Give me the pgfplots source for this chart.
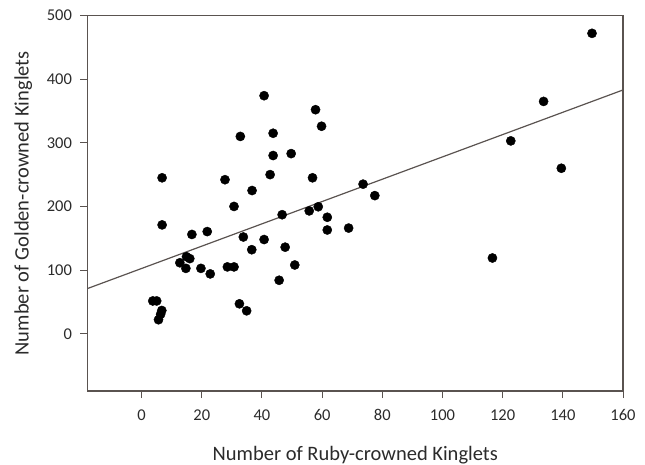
\documentclass[border=0pt]{standalone}
\usepackage{fontspec}
\setmainfont{Carlito}
\usepackage{pgfplots}
\pgfplotsset{compat=1.18}
\definecolor{axc}{HTML}{5A5350}
\definecolor{txt}{HTML}{2B2B2B}
\begin{document}
\begin{tikzpicture}
\begin{axis}[
 scale only axis, width=535.5pt, height=375.5pt,
 xmin=-18, xmax=160, ymin=-90, ymax=500,
 xtick={0,20,...,160}, ytick={0,100,...,500},
 tick align=outside, major tick length=7pt,
 xtick pos=bottom, ytick pos=left,
 axis line style={axc, line width=1.4pt},
 tick style={axc, line width=1pt},
 tick label style={font=\fontsize{16.5}{20}\selectfont, text=txt},
 xticklabel style={yshift=-8pt},
 yticklabel style={xshift=-5pt},
 /pgf/number format/assume math mode=true,
 xlabel={Number of Ruby-crowned Kinglets},
 ylabel={Number of Golden-crowned Kinglets},
 label style={font=\fontsize{20.5}{24}\selectfont, text=txt},
 xlabel style={at={(axis description cs:0.5,-0.1838)}, anchor=base},
 ylabel style={at={(axis description cs:-0.12,0.5)}, anchor=center},
 clip=false,
]
\addplot[no marks, color=axc, line width=1.2pt] coordinates {(-18,71) (160,383)};
\addplot[only marks, mark=*, mark size=4.6pt, black] coordinates {
(40.7,374) (57.8,352) (59.8,326) (32.8,310) (43.7,315) (43.7,280) (49.7,283)
(6.8,245) (27.7,242) (42.7,250) (56.8,245) (36.7,225) (73.6,235) (77.5,217)
(30.7,200) (6.8,171) (16.7,156) (21.8,160.5) (33.8,152) (40.7,148) (36.6,132)
(46.7,187) (55.7,193) (58.7,199.5) (61.7,183) (61.7,163) (68.8,166) (47.7,136)
(50.9,108) (45.7,84) (12.7,111.5) (14.9,121) (16.0,118) (14.7,102.7) (19.7,102.7)
(22.8,94) (28.5,105) (30.7,105) (3.7,51.5) (5.0,51.5) (6.7,36.5) (6.3,30.5)
(5.6,22) (32.5,47) (34.9,36) (149.7,472) (133.6,365) (122.7,303) (139.5,260)
(116.6,119)
};
\end{axis}
\pgfresetboundingbox
\path[use as bounding box] (-87.5pt,-73pt) rectangle (557.5pt,391pt);
\end{tikzpicture}
\end{document}
